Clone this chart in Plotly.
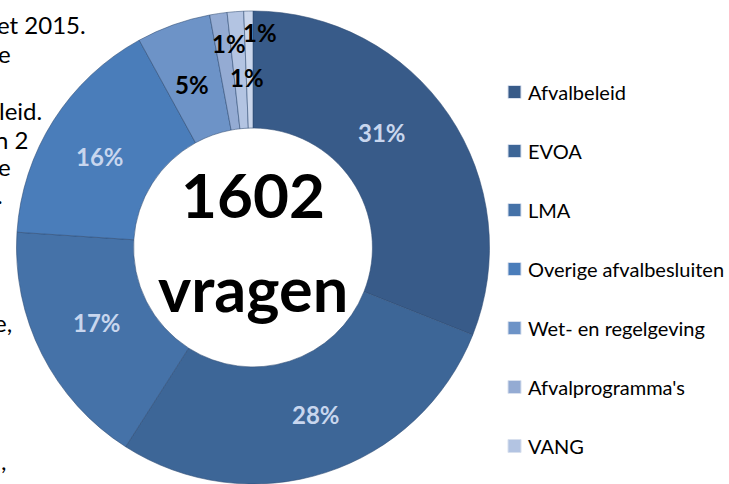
import math
import plotly.graph_objects as go

# ---------------- data ----------------
categories = ["Afvalbeleid", "EVOA", "LMA", "Overige afvalbesluiten",
              "Wet- en regelgeving", "Afvalprogramma's", "VANG", "Overig"]
counts = [497, 449, 272, 256, 81, 19, 18, 10]
total_label = "1602"
total_word = "vragen"

# ---------------- styles ----------------
W, H = 729, 484
colors = ["#385b89", "#3d6697", "#4572a8", "#4a7dba",
          "#6d93c7", "#94abd3", "#b3c4e2", "#cbd7ec"]
label_colors = ["#c8d6ee", "#c8d6ee", "#c8d6ee", "#c8d6ee",
                "#000000", "#000000", "#000000", "#000000"]
# label placement: (radius fraction of outer radius, angle nudge in degrees)
label_place = [(0.73, -7.5), (0.755, -2.8), (0.73, 1.2), (0.753, -1.8),
               (0.736, -0.8), (0.87, 1.6), (0.72, 2.4), (0.91, 3.0)]
FONT = "Lato, 'Open Sans', sans-serif"

# pie geometry (pixels)
R = 236.5
cx, cy = 16.5 + R, H - R  # centre in px from left / top
hole = 0.505

fig = go.Figure()

fig.add_trace(go.Pie(
    labels=categories,
    values=counts,
    hole=hole,
    sort=False,
    direction="clockwise",
    rotation=0,
    marker=dict(colors=colors, line=dict(color="rgba(45,75,115,0.55)", width=1)),
    textinfo="none",
    domain=dict(x=[(cx - R) / W, (cx + R) / W], y=[0, 2 * R / H]),
    showlegend=False,
    hoverinfo="label+value+percent",
))

annotations = []

# percentage labels placed around each slice's mid angle
tot = sum(counts)
cum = 0
for i, c in enumerate(counts):
    mid = (cum + c / 2) / tot * 360
    cum += c
    rf, nudge = label_place[i]
    a = math.radians(mid + nudge)
    px = cx + rf * R * math.sin(a)
    py = cy - rf * R * math.cos(a)
    pct = round(c / tot * 100)
    annotations.append(dict(
        x=px / W, y=1 - py / H, xref="paper", yref="paper",
        text=f"<b>{pct}%</b>", showarrow=False,
        font=dict(family=FONT, size=24, color=label_colors[i]),
        xanchor="center", yanchor="middle"))

# centre text
annotations.append(dict(x=cx / W, y=1 - 194 / H, xref="paper", yref="paper",
                        text=f"<b>{total_label}</b>", showarrow=False,
                        font=dict(family=FONT, size=62, color="#000000"),
                        xanchor="center", yanchor="middle"))
annotations.append(dict(x=cx / W, y=1 - 287 / H, xref="paper", yref="paper",
                        text=f"<b>{total_word}</b>", showarrow=False,
                        font=dict(family=FONT, size=63, color="#000000"),
                        xanchor="center", yanchor="middle"))

# manual legend (only rows inside the page are visible)
leg_x0, leg_y0, leg_dy, sq = 508, 92, 59, 13
shapes = []
for i, name in enumerate(categories):
    yy = leg_y0 + i * leg_dy
    shapes.append(dict(type="rect", xref="paper", yref="paper",
                       x0=leg_x0 / W, x1=(leg_x0 + sq) / W,
                       y0=1 - (yy + sq / 2) / H, y1=1 - (yy - sq / 2) / H,
                       fillcolor=colors[i], line=dict(color="#d8e0ee", width=1)))
    annotations.append(dict(x=(leg_x0 + sq + 5) / W, y=1 - yy / H,
                            xref="paper", yref="paper", text=name, showarrow=False,
                            font=dict(family=FONT, size=20, color="#000000"),
                            xanchor="left", yanchor="middle"))

# fragments of the page text behind the chart (left edge)
bg_text = ["et 2015.", "e", "leid.", "n 2", "e", ".", "e,", ","]
bg_pos = [(88, 25), (13, 53), (44, 111), (30, 139), (13, 166), (5, 194), (14, 322), (8, 460)]
for t, (rx, ry) in zip(bg_text, bg_pos):
    annotations.append(dict(x=rx / W, y=1 - ry / H, xref="paper", yref="paper",
                            text=t, showarrow=False,
                            font=dict(family=FONT, size=24, color="#000000"),
                            xanchor="right", yanchor="middle"))

fig.update_layout(
    width=W, height=H,
    margin=dict(l=0, r=0, t=0, b=0),
    paper_bgcolor="#ffffff",
    plot_bgcolor="#ffffff",
    annotations=annotations,
    shapes=shapes,
)

fig.write_html(
    "out.html",
    config={"displayModeBar": False},
    post_script="document.body.style.margin='0';document.body.style.overflow='hidden';",
)
